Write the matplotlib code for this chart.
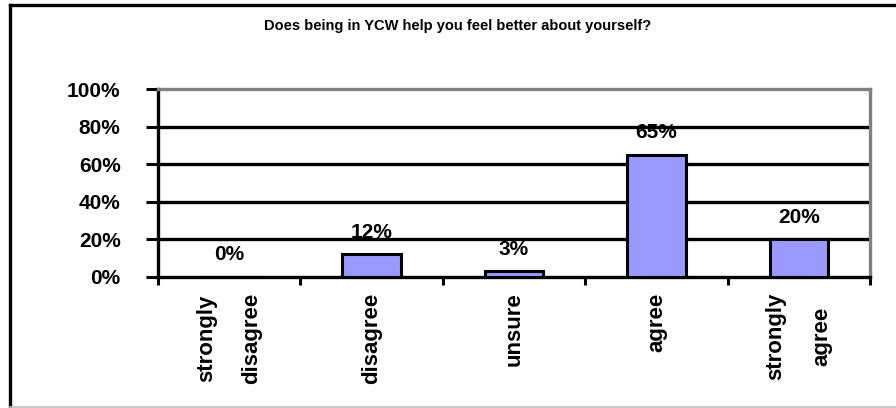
import matplotlib.pyplot as plt
from matplotlib.lines import Line2D

categories = ['strongly\ndisagree', 'disagree', 'unsure', 'agree', 'strongly\nagree']
values = [0, 12, 3, 65, 20]
value_labels = ['0%', '12%', '3%', '65%', '20%']
yticks = [0, 20, 40, 60, 80, 100]
ytick_labels = ['0%', '20%', '40%', '60%', '80%', '100%']
title = 'Does being in YCW help you feel better about yourself?'

plt.rcParams['font.family'] = ['Liberation Sans', 'DejaVu Sans']

fig = plt.figure(figsize=(8.96, 4.08), dpi=100)
ax = fig.add_axes([158 / 896, 1 - 277 / 408, 712 / 896, 188 / 408])

# outer chart frame (left/top black, bottom light grey)
fig.add_artist(Line2D([9.5 / 896, 9.5 / 896], [0, 1 - 4.5 / 408], color='black', lw=2.4,
                      transform=fig.transFigure, solid_capstyle='projecting'))
fig.add_artist(Line2D([9.5 / 896, 1], [1 - 4.5 / 408, 1 - 4.5 / 408], color='black', lw=2.4,
                      transform=fig.transFigure, solid_capstyle='projecting'))
fig.add_artist(Line2D([9.5 / 896, 1], [1.2 / 408, 1.2 / 408], color='#c0c0c0', lw=1.2,
                      transform=fig.transFigure))

x = list(range(len(categories)))
ax.bar(x, values, width=0.41, color='#9999ff', edgecolor='black', linewidth=2.2, zorder=3)

for xi, v, lab in zip(x, values, value_labels):
    ax.annotate(lab, (xi, v), xytext=(0, 16), textcoords='offset points',
                ha='center', va='center', fontsize=15, fontweight='bold')

ax.set_xlim(-0.5, len(categories) - 0.5)
ax.set_ylim(0, 100)

for y in yticks[1:-1]:
    ax.axhline(y, color='black', lw=2.4, zorder=1)

ax.set_yticks(yticks)
ax.set_yticklabels(ytick_labels, fontsize=15, fontweight='bold')
ax.tick_params(axis='y', direction='out', length=9, width=2.2, pad=18)

ax.set_xticks([i - 0.5 for i in range(len(categories) + 1)])
ax.set_xticklabels([])
ax.set_xticks(x, minor=True)
ax.set_xticklabels(categories, minor=True, rotation=90, fontsize=16, fontweight='bold',
                   linespacing=2.55, multialignment='center')
ax.tick_params(axis='x', which='major', direction='out', length=6, width=2.2)
ax.tick_params(axis='x', which='minor', length=0, pad=11)

ax.spines['left'].set_linewidth(2.4)
ax.spines['bottom'].set_linewidth(2.4)
ax.spines['top'].set_color('#808080')
ax.spines['top'].set_linewidth(2.4)
ax.spines['right'].set_color('#808080')
ax.spines['right'].set_linewidth(2.4)

fig.text(458 / 896, 1 - 26 / 408, title, ha='center', va='center', fontsize=10.5, fontweight='bold')

fig.savefig('out.png', dpi=100)
